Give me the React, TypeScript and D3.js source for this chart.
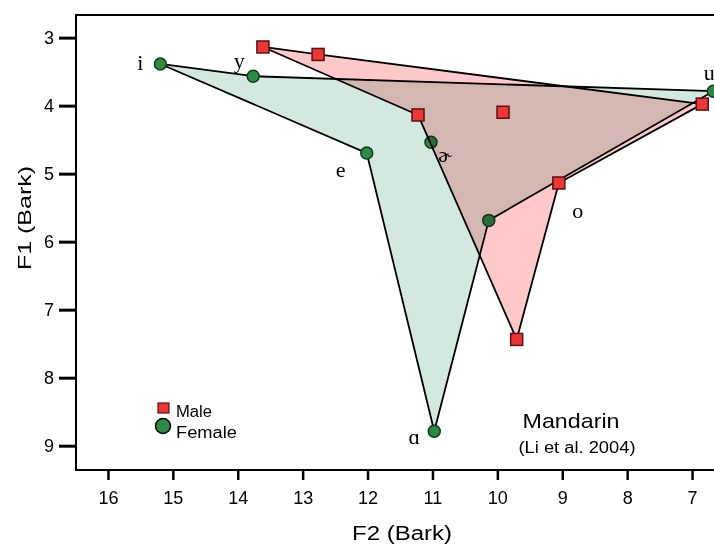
import { useEffect, useRef } from "react";
import * as d3 from "d3";

// vowel order matches the polygon outline; schwa is drawn but inside
const vowels = ["i", "y", "u", "o", "ɑ", "e", "ɚ"];
const femaleF2 = [15.2, 13.77, 6.68, 10.14, 10.98, 12.02, 11.03];
const femaleF1 = [3.38, 3.56, 3.78, 5.68, 8.78, 4.69, 4.53];
const maleF2 = [13.62, 12.77, 6.85, 9.06, 9.71, 11.23, 9.92];
const maleF1 = [3.13, 3.24, 3.97, 5.13, 7.43, 4.13, 4.09];
const outline = ["i", "y", "u", "o", "ɑ", "e"];
const xTicks = [16, 15, 14, 13, 12, 11, 10, 9, 8, 7];
const yTicks = [3, 4, 5, 6, 7, 8, 9];

// label offsets from the female point (pixels)
const labelOffset: Record<string, [number, number]> = {
  i: [-20, 6],
  y: [-14, -8],
  u: [-4, -11],
  o: [89, -2],
  ɑ: [-20, 13],
  e: [-26, 24],
  ɚ: [14, 20],
};

export default function App() {
  const width = 714;
  const height = 544;
  const svgRef = useRef<SVGSVGElement>(null);

  useEffect(() => {
    const x = d3.scaleLinear().domain([16.5, 6.5]).range([76, 725]);
    const y = d3.scaleLinear().domain([2.66, 9.35]).range([15, 470]);

    const svg = d3.select(svgRef.current);
    svg.selectAll("*").remove();

    const female = vowels.map((v, i) => ({ v, f2: femaleF2[i], f1: femaleF1[i] }));
    const male = vowels.map((v, i) => ({ v, f2: maleF2[i], f1: maleF1[i] }));

    const poly = (pts: { v: string; f2: number; f1: number }[]) =>
      outline
        .map((v) => pts.find((p) => p.v === v)!)
        .map((p) => `${x(p.f2)},${y(p.f1)}`)
        .join(" ");

    // frame
    svg
      .append("path")
      .attr("d", `M760,15H76V470H760`)
      .attr("fill", "none")
      .attr("stroke", "#000")
      .attr("stroke-width", 2);

    // axes ticks
    svg
      .append("g")
      .selectAll("line")
      .data(yTicks)
      .join("line")
      .attr("x1", 59)
      .attr("x2", 76)
      .attr("y1", (d) => y(d))
      .attr("y2", (d) => y(d))
      .attr("stroke", "#000")
      .attr("stroke-width", 3);
    svg
      .append("g")
      .attr("font-family", "Liberation Sans, Arial, sans-serif")
      .attr("font-size", 18)
      .attr("text-anchor", "end")
      .selectAll("text")
      .data(yTicks)
      .join("text")
      .attr("x", 54)
      .attr("y", (d) => y(d) + 6)
      .text((d) => d);

    svg
      .append("g")
      .selectAll("line")
      .data(xTicks)
      .join("line")
      .attr("x1", (d) => x(d))
      .attr("x2", (d) => x(d))
      .attr("y1", 470)
      .attr("y2", 480)
      .attr("stroke", "#000")
      .attr("stroke-width", 2.5);
    svg
      .append("g")
      .attr("font-family", "Liberation Sans, Arial, sans-serif")
      .attr("font-size", 18)
      .attr("text-anchor", "middle")
      .selectAll("text")
      .data(xTicks)
      .join("text")
      .attr("x", (d) => x(d))
      .attr("y", 504)
      .text((d) => d);

    // axis titles
    svg
      .append("text")
      .attr("x", 402)
      .attr("y", 540)
      .attr("text-anchor", "middle")
      .attr("font-family", "Liberation Sans, Arial, sans-serif")
      .attr("font-size", 20)
      .attr("textLength", 100)
      .attr("lengthAdjust", "spacingAndGlyphs")
      .text("F2 (Bark)");
    svg
      .append("text")
      .attr("transform", "translate(31,218) rotate(-90)")
      .attr("text-anchor", "middle")
      .attr("font-family", "Liberation Sans, Arial, sans-serif")
      .attr("font-size", 19)
      .attr("textLength", 104)
      .attr("lengthAdjust", "spacingAndGlyphs")
      .text("F1 (Bark)");

    // female
    svg
      .append("polygon")
      .attr("points", poly(female))
      .attr("fill", "#d3e9df")
      .attr("stroke", "#000")
      .attr("stroke-width", 1.8)
      .attr("stroke-linejoin", "round");
    svg
      .append("g")
      .selectAll("circle")
      .data(female)
      .join("circle")
      .attr("cx", (d) => x(d.f2))
      .attr("cy", (d) => y(d.f1))
      .attr("r", 6)
      .attr("fill", "#2b8a47")
      .attr("stroke", "#143a1c")
      .attr("stroke-width", 1.5);

    // male, multiplied over female
    svg
      .append("polygon")
      .attr("points", poly(male))
      .attr("fill", "#ffc9c9")
      .attr("style", "mix-blend-mode:multiply")
      .attr("stroke", "#000")
      .attr("stroke-width", 1.8)
      .attr("stroke-linejoin", "round");
    svg
      .append("g")
      .selectAll("rect")
      .data(male)
      .join("rect")
      .attr("x", (d) => x(d.f2) - 6)
      .attr("y", (d) => y(d.f1) - 6)
      .attr("width", 12)
      .attr("height", 12)
      .attr("fill", "#ee3636")
      .attr("stroke", "#5a1212")
      .attr("stroke-width", 1.5);

    // vowel labels
    svg
      .append("g")
      .attr("font-family", "Liberation Serif, DejaVu Serif, serif")
      .attr("font-size", 22)
      .attr("text-anchor", "middle")
      .selectAll("text")
      .data(female)
      .join("text")
      .attr("x", (d) => x(d.f2) + labelOffset[d.v][0])
      .attr("y", (d) => y(d.f1) + labelOffset[d.v][1])
      .text((d) => d.v);

    // legend
    svg
      .append("rect")
      .attr("x", 158)
      .attr("y", 403)
      .attr("width", 11)
      .attr("height", 10)
      .attr("fill", "#ee3636")
      .attr("stroke", "#5a1212")
      .attr("stroke-width", 1.2);
    svg
      .append("circle")
      .attr("cx", 163)
      .attr("cy", 426)
      .attr("r", 7.5)
      .attr("fill", "#2b8a47")
      .attr("stroke", "#000")
      .attr("stroke-width", 1.5);
    const legend = svg
      .append("g")
      .attr("font-family", "Liberation Sans, Arial, sans-serif")
      .attr("font-size", 16);
    legend
      .append("text")
      .attr("x", 176)
      .attr("y", 417)
      .attr("textLength", 36)
      .attr("lengthAdjust", "spacingAndGlyphs")
      .text("Male");
    legend
      .append("text")
      .attr("x", 176)
      .attr("y", 438)
      .attr("textLength", 61)
      .attr("lengthAdjust", "spacingAndGlyphs")
      .text("Female");

    svg
      .append("text")
      .attr("x", 571)
      .attr("y", 428)
      .attr("text-anchor", "middle")
      .attr("font-family", "Liberation Sans, Arial, sans-serif")
      .attr("font-size", 21)
      .attr("textLength", 97)
      .attr("lengthAdjust", "spacingAndGlyphs")
      .text("Mandarin");
    svg
      .append("text")
      .attr("x", 577)
      .attr("y", 453)
      .attr("text-anchor", "middle")
      .attr("font-family", "Liberation Sans, Arial, sans-serif")
      .attr("font-size", 16)
      .attr("textLength", 117)
      .attr("lengthAdjust", "spacingAndGlyphs")
      .text("(Li et al. 2004)");
  }, []);

  return (
    <div>
      <style>{"body{margin:0}"}</style>
      <svg
        ref={svgRef}
        width={width}
        height={height}
        style={{ display: "block", background: "#fff", isolation: "isolate" }}
      ></svg>
    </div>
  );
}
